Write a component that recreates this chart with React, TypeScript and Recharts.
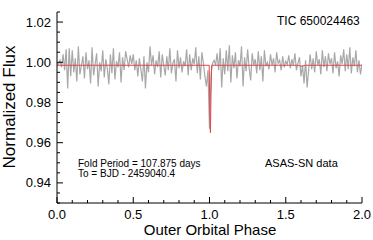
import { LineChart, Line, XAxis, YAxis } from 'recharts'

// folded ASAS-SN light curve, one value every 0.01 in phase (0.00 .. 2.00)
const obsFlux = [
  0.9995, 0.9990, 1.0010, 0.9975, 1.0040, 0.9960, 1.0065, 0.9870, 1.0070, 0.9930,
  1.0060, 0.9950, 1.0020, 0.9905, 1.0080, 0.9940, 0.9985, 1.0030, 0.9920, 1.0050,
  0.9965, 1.0010, 0.9895, 1.0075, 0.9935, 0.9990, 1.0045, 0.9880, 1.0000, 0.9955,
  1.0060, 0.9925, 1.0015, 0.9970, 0.9890, 1.0040, 0.9945, 1.0070, 0.9915, 1.0005,
  0.9975, 1.0050, 0.9900, 1.0025, 0.9960, 1.0055, 1.0015, 0.9975, 1.0035, 0.9990,
  1.0040, 0.9960, 1.0010, 0.9930, 1.0020, 0.9965, 0.9905, 1.0030, 0.9870, 1.0000,
  0.9950, 1.0080, 0.9985, 1.0035, 0.9940, 1.0010, 0.9975, 1.0055, 0.9925, 1.0040,
  0.9985, 0.9935, 1.0030, 0.9960, 1.0070, 0.9945, 0.9995, 1.0015, 0.9905, 1.0060,
  0.9970, 1.0025, 0.9950, 1.0005, 0.9980, 1.0065, 0.9935, 1.0040, 0.9960, 1.0020,
  0.9990, 1.0075, 0.9945, 1.0030, 0.9915, 1.0050, 0.9995, 0.9930, 0.9880, 0.9960,
  0.9670,
  0.9940, 0.9995, 1.0010, 0.9985, 1.0045, 0.9960, 1.0070, 0.9875, 1.0020,
  0.9940, 1.0060, 0.9955, 1.0085, 0.9900, 1.0035, 0.9970, 1.0050, 0.9920, 1.0010,
  0.9980, 1.0080, 0.9880, 1.0025, 0.9955, 1.0065, 0.9970, 0.9910, 1.0045, 0.9985,
  1.0015, 0.9945, 1.0055, 0.9960, 1.0030, 0.9905, 1.0060, 0.9980, 1.0000, 0.9965,
  1.0040, 0.9985, 1.0020, 0.9950, 1.0050, 0.9995, 1.0010, 0.9960, 1.0030, 0.9975,
  1.0005, 0.9990, 1.0035, 0.9970, 1.0015, 0.9985, 1.0045, 0.9960, 0.9995, 1.0025,
  0.9930, 0.9985, 0.9895, 1.0010, 0.9875, 0.9960, 1.0040, 0.9965, 1.0020, 0.9950,
  1.0055, 0.9985, 1.0015, 0.9940, 1.0060, 0.9975, 1.0030, 0.9955, 1.0045, 0.9990,
  1.0020, 0.9945, 1.0050, 0.9970, 1.0005, 0.9930, 1.0035, 0.9990, 1.0065, 0.9955,
  1.0040, 0.9965, 1.0075, 0.9945, 1.0025, 0.9980, 1.0060, 0.9950, 1.0010, 0.9940,
  0.9990,
]

// eclipse model
const modelPhase = [0, 0.998, 1.002, 1.006, 1.01, 1.014, 1.58, 1.6, 1.63, 2.0]
const modelFlux = [0.9985, 0.9985, 0.976, 0.965, 0.984, 0.9985, 0.9985, 0.998, 0.9985, 0.9985]

const xTicks = [0, 0.1, 0.2, 0.3, 0.4, 0.5, 0.6, 0.7, 0.8, 0.9, 1, 1.1, 1.2, 1.3, 1.4, 1.5, 1.6, 1.7, 1.8, 1.9, 2]
const yTicks = [
  0.93, 0.935, 0.94, 0.945, 0.95, 0.955, 0.96, 0.965, 0.97, 0.975, 0.98, 0.985,
  0.99, 0.995, 1.0, 1.005, 1.01, 1.015, 1.02, 1.025,
]

const obsData = obsFlux.map((flux, i) => ({ phase: i / 100, flux }))
const modelData = modelPhase.map((phase, i) => ({ phase, flux: modelFlux[i] }))

const font = '"Liberation Sans", Arial, sans-serif'
const isMajorX = (v: number) => Math.abs(v * 2 - Math.round(v * 2)) < 1e-6
const isMajorY = (v: number) => Math.abs(v * 50 - Math.round(v * 50)) < 1e-6

const BottomTick = (props: any) => {
  const { x, y, payload } = props
  const major = isMajorX(payload.value)
  return (
    <g>
      <line x1={x} x2={x} y1={y} y2={y - (major ? 6 : 3)} stroke="#000" />
      {major && (
        <text x={x} y={y + 16} textAnchor="middle" fontSize={13} fontFamily={font} fill="#000">
          {payload.value.toFixed(1)}
        </text>
      )}
    </g>
  )
}

const TopTick = (props: any) => {
  const { x, y, payload } = props
  const major = isMajorX(payload.value)
  return <line x1={x} x2={x} y1={y} y2={y + (major ? 6 : 3)} stroke="#000" />
}

const LeftTick = (props: any) => {
  const { x, y, payload } = props
  const major = isMajorY(payload.value)
  return (
    <g>
      <line x1={x} x2={x + (major ? 6 : 3)} y1={y} y2={y} stroke="#000" />
      {major && (
        <text x={x - 6} y={y + 4.5} textAnchor="end" fontSize={13} fontFamily={font} fill="#000">
          {payload.value.toFixed(2)}
        </text>
      )}
    </g>
  )
}

const RightTick = (props: any) => {
  const { x, y, payload } = props
  const major = isMajorY(payload.value)
  return <line x1={x} x2={x - (major ? 6 : 3)} y1={y} y2={y} stroke="#000" />
}

export default function App() {
  return (
    <div style={{ position: 'fixed', left: 0, top: 0, width: 373, height: 240, background: '#fff' }}>
      <LineChart width={373} height={240} margin={{ top: 12, right: 11, bottom: 0, left: 0 }}>
        <XAxis
          xAxisId="b"
          dataKey="phase"
          type="number"
          domain={[0, 2]}
          ticks={xTicks}
          allowDataOverflow
          height={37}
          tickSize={0}
          tickMargin={0}
          tickLine={false}
          stroke="#000"
          tick={BottomTick}
          interval={0}
        />
        <XAxis
          xAxisId="t"
          orientation="top"
          dataKey="phase"
          type="number"
          domain={[0, 2]}
          ticks={xTicks}
          allowDataOverflow
          height={0}
          tickSize={0}
          tickMargin={0}
          tickLine={false}
          stroke="#000"
          tick={TopTick}
          interval={0}
        />
        <YAxis
          yAxisId="l"
          type="number"
          domain={[0.93, 1.025]}
          ticks={yTicks}
          allowDataOverflow
          width={57}
          tickSize={0}
          tickMargin={0}
          tickLine={false}
          stroke="#000"
          tick={LeftTick}
          interval={0}
        />
        <YAxis
          yAxisId="r"
          orientation="right"
          type="number"
          domain={[0.93, 1.025]}
          ticks={yTicks}
          allowDataOverflow
          width={0}
          tickSize={0}
          tickMargin={0}
          tickLine={false}
          stroke="#000"
          tick={RightTick}
          interval={0}
        />
        <Line
          xAxisId="b"
          yAxisId="l"
          data={obsData}
          dataKey="flux"
          type="linear"
          stroke="#a8a8a8"
          strokeWidth={1.2}
          dot={false}
          isAnimationActive={false}
        />
        <Line
          xAxisId="t"
          yAxisId="r"
          data={modelData}
          dataKey="flux"
          type="linear"
          stroke="#e0474c"
          strokeWidth={1}
          dot={false}
          isAnimationActive={false}
        />
        <text x={210} y={235} textAnchor="middle" fontSize={15} fontFamily={font} fill="#000">
          Outer Orbital Phase
        </text>
        <text
          x={15}
          y={107}
          textAnchor="middle"
          fontSize={17}
          fontFamily={font}
          fill="#000"
          transform="rotate(-90 15 107)"
        >
          Normalized Flux
        </text>
        <text x={277} y={25} fontSize={12} fontFamily={font} fill="#000">TIC 650024463</text>
        <text x={265} y={167} fontSize={11} fontFamily={font} fill="#000">ASAS-SN data</text>
        <text x={78} y={167} fontSize={10} fontFamily={font} fill="#000">Fold Period = 107.875 days</text>
        <text x={78} y={177} fontSize={10} fontFamily={font} fill="#000">To = BJD - 2459040.4</text>
      </LineChart>
    </div>
  )
}
